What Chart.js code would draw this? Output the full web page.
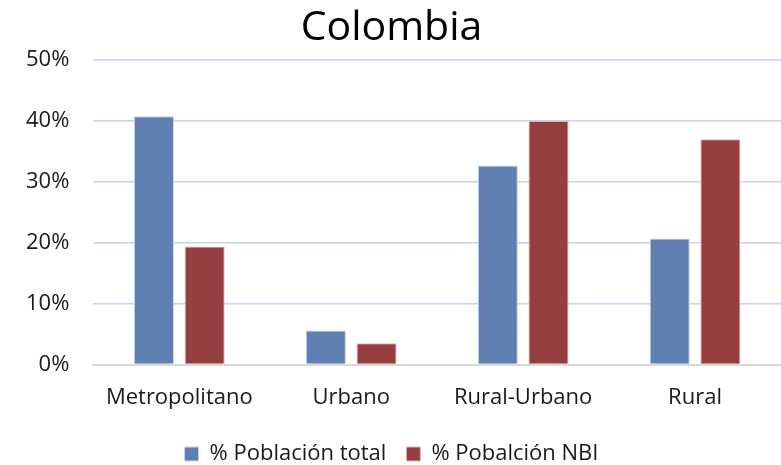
<!DOCTYPE html>
<html>
<head>
<meta charset="utf-8">
<script src="https://cdn.jsdelivr.net/npm/chart.js@4"></script>
<style>
  html, body { margin: 0; padding: 0; background: #ffffff; }
  #wrap { width: 781px; height: 465px; }
</style>
</head>
<body>
<div id="wrap"><canvas id="grafico"></canvas></div>
<script>
// datos del gráfico
let categorias = ['Metropolitano', 'Urbano', 'Rural-Urbano', 'Rural'];
let poblacionTotal = [40.8, 5.6, 32.7, 20.7];
let poblacionNBI = [19.4, 3.5, 40.0, 37.0];
let ticksY = [0, 10, 20, 30, 40, 50];

Chart.defaults.font.family = '"Open Sans", "Liberation Sans", sans-serif';
Chart.defaults.color = '#1a1a1a';

let chartData = {
    labels: categorias,
    datasets: [{
        label: '% Población total',
        data: poblacionTotal,
        backgroundColor: '#6080b2',
        borderColor: '#c9d5ea',
        borderWidth: 1,
        barPercentage: 0.79,
        categoryPercentage: 0.59
    },
    {
        label: '% Pobalción NBI',
        data: poblacionNBI,
        backgroundColor: '#953e3f',
        borderColor: '#dcb9b9',
        borderWidth: 1,
        barPercentage: 0.79,
        categoryPercentage: 0.59
    }]
};

const config = {
    type: 'bar',
    data: chartData,
    options: {
        responsive: true,
        maintainAspectRatio: false,
        animation: false,
        layout: { padding: { left: 2, right: 0, top: 4, bottom: -10 } },
        scales: {
            x: {
                grid: { display: false },
                border: { color: '#d9d9d9', width: 2 },
                ticks: { font: { size: 22 }, color: '#1a1a1a', padding: 12 }
            },
            y: {
                min: 0,
                max: 50,
                z: 1,
                afterBuildTicks: function (escala) {
                    escala.ticks = ticksY.map(v => ({ value: v }));
                },
                grid: { color: 'rgba(160,185,225,0.6)', lineWidth: 1.5, drawTicks: false },
                border: { display: false },
                ticks: {
                    font: { size: 22 },
                    color: '#1a1a1a',
                    padding: 24,
                    callback: v => v + '%'
                }
            }
        },
        plugins: {
            legend: {
                position: 'bottom',
                labels: {
                    font: { size: 22 },
                    color: '#1a1a1a',
                    boxWidth: 14,
                    boxHeight: 14,
                    padding: 20
                }
            },
            title: {
                display: true,
                text: 'Colombia',
                font: { size: 41, weight: 'normal' },
                color: '#000000',
                padding: { top: 0, bottom: 7 }
            },
            tooltip: { enabled: false }
        }
    }
};

let myChart = new Chart(document.getElementById('grafico'), config);
</script>
</body>
</html>
